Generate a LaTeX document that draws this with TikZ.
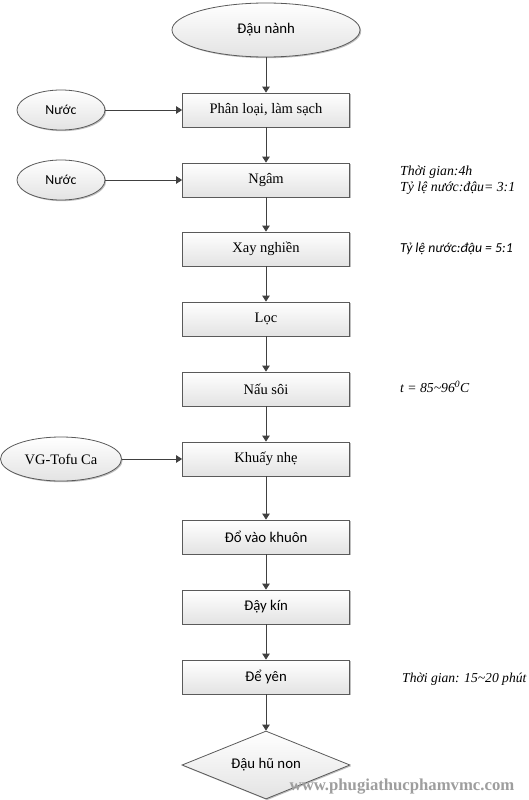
\documentclass[tikz,border=0pt]{standalone}
\usepackage{fontspec}
\setmainfont{Liberation Serif}
\setsansfont{Carlito}
\usetikzlibrary{arrows.meta,shapes.geometric,shadows}
\definecolor{lineC}{HTML}{404040}
\definecolor{borderC}{HTML}{5A5A5A}
\begin{document}
\begin{tikzpicture}[x=1pt,y=-1pt,
  shade box/.style={draw=borderC, line width=0.8pt, top color=white, bottom color=black!11,
     drop shadow={shadow xshift=1.2pt, shadow yshift=-1.2pt, opacity=0.25, fill=black}},
  procbox/.style={shade box, rectangle, minimum width=167pt, minimum height=34pt, inner sep=0pt},
  oval/.style={shade box, ellipse, inner sep=0pt},
  serifT/.style={font=\fontsize{14.5}{17}\selectfont\rmfamily},
  sansT/.style={font=\fontsize{14.8}{17}\selectfont\sffamily},
  note/.style={anchor=west, align=left, inner sep=0pt, font=\fontsize{13.8}{15.5}\selectfont\rmfamily\itshape},
  flow/.style={draw=lineC, line width=0.8pt, -{Triangle[length=6pt,width=7.5pt]}}
]
\useasboundingbox (0,0) rectangle (529,800);
\fill[white] (0,0) rectangle (529,800);

\node[oval, sansT, minimum width=188pt, minimum height=54pt] (dn) at (266,30) {Đậu nành};
\node[procbox, serifT] (pl) at (266,110) {Phân loại, làm sạch};
\node[procbox, serifT] (ng) at (266,180) {Ngâm};
\node[procbox, serifT] (xn) at (266,249) {Xay nghiền};
\node[procbox, serifT] (lc) at (266,319) {Lọc};
\node[procbox, serifT] (ns) at (266,389) {Nấu sôi};
\node[procbox, serifT] (kn) at (266,459) {Khuấy nhẹ};
\node[procbox, sansT] (dk) at (266,537) {Đổ vào khuôn};
\node[procbox, sansT] (dy) at (266,607) {Đậy kín};
\node[procbox, sansT] (de) at (266,677) {Để yên};
\node[shade box, diamond, aspect=2.47, minimum width=168pt, minimum height=68pt, inner sep=0pt, sansT] (hn) at (266,765) {Đậu hũ non};

\node[oval, font=\fontsize{13.8}{15}\selectfont\sffamily, minimum width=88pt, minimum height=40pt] (w1) at (61,110) {Nước};
\node[oval, font=\fontsize{13.8}{15}\selectfont\sffamily, minimum width=88pt, minimum height=40pt] (w2) at (61,180) {Nước};
\node[oval, serifT, minimum width=121pt, minimum height=44pt] (vg) at (61,459) {VG-Tofu Ca};

\draw[flow] (dn) -- (pl);
\draw[flow] (pl) -- (ng);
\draw[flow] (ng) -- (xn);
\draw[flow] (xn) -- (lc);
\draw[flow] (lc) -- (ns);
\draw[flow] (ns) -- (kn);
\draw[flow] (kn) -- (dk);
\draw[flow] (dk) -- (dy);
\draw[flow] (dy) -- (de);
\draw[flow] (de) -- (hn);
\draw[flow] (w1) -- (pl);
\draw[flow] (w2) -- (ng);
\draw[flow] (vg) -- (kn);

\node[note] (a1) at (400,180) {Thời gian:4h\\Tỷ lệ nước:đậu= 3:1};
\node[note, font=\fontsize{13.7}{15}\selectfont\sffamily\itshape] (a2) at (400,249) {Tỷ lệ nước:đậu = 5:1};
\node[note, font=\fontsize{13.7}{15}\selectfont\rmfamily\itshape] (a3) at (400,387) {t = 85\textasciitilde 96\textsuperscript{0}C};
\node[note, font=\fontsize{13.6}{15}\selectfont\rmfamily\itshape] (a4) at (402,679) {Thời gian: 15\textasciitilde 20 phút};

\node[anchor=center, inner sep=0pt, text=black!38, font=\fontsize{16.7}{18}\selectfont\rmfamily\bfseries] (wm) at (402,787) {www.phugiathucphamvmc.com};
\end{tikzpicture}
\end{document}
